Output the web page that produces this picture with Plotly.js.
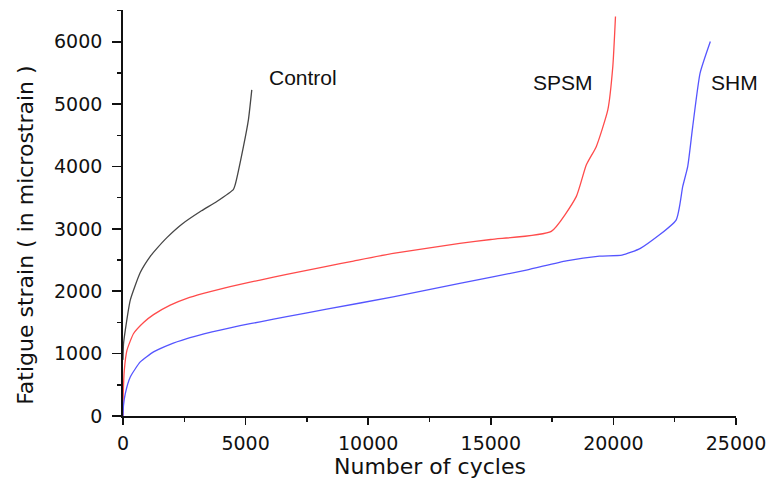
<!DOCTYPE html>
<html>
<head>
<meta charset="utf-8">
<script src="https://cdn.plot.ly/plotly-3.0.1.min.js"></script>
<style>
  html, body { margin: 0; padding: 0; background: #fff; }
  #chart { width: 768px; height: 481px; }
</style>
</head>
<body>
<div id="chart"></div>
<script>
// Fatigue strain versus number of loading cycles for three mixes
const controlCycles = [0, 20, 94, 297, 704, 1112, 1384, 1790, 2400, 3200, 3826, 4505, 4572, 4911, 5114, 5252];
const controlStrain = [900, 1150, 1376, 1858, 2300, 2560, 2688, 2860, 3075, 3290, 3440, 3635, 3704, 4319, 4748, 5230];

const spsmCycles = [0, 10, 53, 163, 432, 839, 1246, 1926, 2606, 3281, 3962, 4776, 5590, 6677, 8306, 9400, 11018, 13734, 15000, 17467, 18485, 18893, 19300, 19772, 19976, 20085];
const spsmStrain = [0, 350, 734, 1055, 1323, 1500, 1625, 1777, 1885, 1965, 2035, 2110, 2180, 2270, 2400, 2485, 2607, 2768, 2830, 2960, 3517, 4025, 4319, 4908, 5604, 6406];

const shmCycles = [0, 20, 94, 297, 704, 1246, 1926, 2606, 3300, 3962, 4776, 5590, 6677, 8306, 11018, 13734, 16449, 18078, 19434, 20350, 21100, 22557, 22826, 23030, 23234, 23535, 23954];
const shmStrain = [0, 170, 360, 626, 867, 1028, 1150, 1240, 1315, 1378, 1448, 1510, 1592, 1712, 1911, 2126, 2339, 2489, 2564, 2580, 2688, 3142, 3677, 3998, 4640, 5498, 6005];

const seriesNames = ['Control', 'SPSM', 'SHM'];
const xTickVals = [0, 5000, 10000, 15000, 20000, 25000];
const yTickVals = [0, 1000, 2000, 3000, 4000, 5000, 6000];

const tickFont = { family: 'DejaVu Sans, Arial, sans-serif', size: 19, color: '#111' };
const titleFont = { family: 'DejaVu Sans, Arial, sans-serif', size: 22, color: '#111' };
const labelFont = { family: 'Liberation Sans, Arial, sans-serif', size: 21, color: '#111' };

const traces = [
  { x: controlCycles, y: controlStrain, name: seriesNames[0], mode: 'lines',
    line: { color: 'rgb(70,70,70)', width: 1.3, shape: 'spline', smoothing: 0.5 } },
  { x: spsmCycles, y: spsmStrain, name: seriesNames[1], mode: 'lines',
    line: { color: 'rgb(255,75,75)', width: 1.3, shape: 'spline', smoothing: 0.5 } },
  { x: shmCycles, y: shmStrain, name: seriesNames[2], mode: 'lines',
    line: { color: 'rgb(85,85,255)', width: 1.3, shape: 'spline', smoothing: 0.5 } }
];

const axisCommon = {
  showgrid: false, zeroline: false, showline: true,
  linecolor: '#111', linewidth: 1.8,
  ticks: 'outside', tickcolor: '#111', tickwidth: 1.6,
  tickfont: tickFont
};

const layout = {
  width: 768, height: 481,
  margin: { l: 123, r: 32, t: 10, b: 65 },
  paper_bgcolor: '#fff', plot_bgcolor: '#fff',
  showlegend: false,
  xaxis: Object.assign({}, axisCommon, {
    range: [0, 25000], tickmode: 'array', tickvals: xTickVals, tickformat: 'd',
    ticklen: 7, ticklabelstandoff: 2,
    minor: { dtick: 2500, ticks: 'outside', ticklen: 4, tickcolor: '#111', tickwidth: 1.4, showgrid: false }
  }),
  yaxis: Object.assign({}, axisCommon, {
    range: [0, 6510], tickmode: 'array', tickvals: yTickVals, tickformat: 'd',
    ticklen: 9, ticklabelstandoff: 6,
    minor: { dtick: 500, ticks: 'outside', ticklen: 4, tickcolor: '#111', tickwidth: 1.4, showgrid: false }
  }),
  annotations: [
    { text: 'Number of cycles', xref: 'paper', yref: 'paper', x: 0.5, y: -0.125,
      xanchor: 'center', yanchor: 'middle', showarrow: false, font: titleFont },
    { text: 'Fatigue strain ( in microstrain )', xref: 'paper', yref: 'paper', x: -0.159, y: 0.445,
      xanchor: 'center', yanchor: 'middle', textangle: -90, showarrow: false, font: titleFont },
    { text: seriesNames[0], x: 7330, y: 5427, xanchor: 'center', yanchor: 'middle', showarrow: false, font: labelFont },
    { text: seriesNames[1], x: 17930, y: 5342, xanchor: 'center', yanchor: 'middle', showarrow: false, font: labelFont },
    { text: seriesNames[2], x: 24950, y: 5342, xanchor: 'center', yanchor: 'middle', showarrow: false, font: labelFont }
  ]
};

Plotly.newPlot('chart', traces, layout, { displayModeBar: false, staticPlot: true });
</script>
</body>
</html>
